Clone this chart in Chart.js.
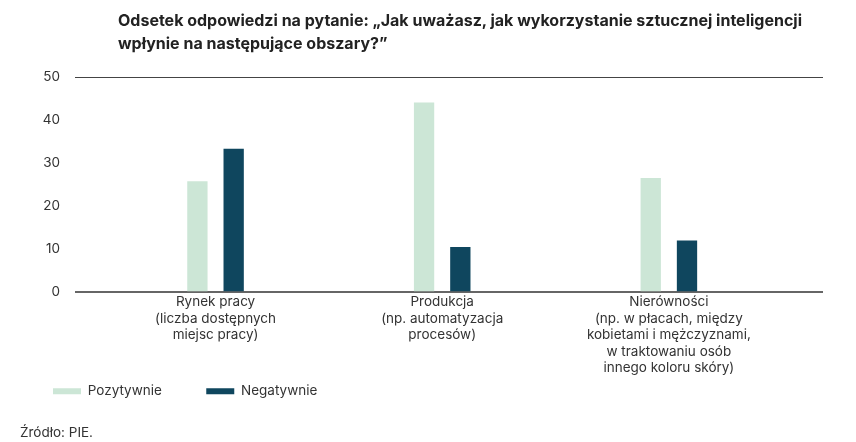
<!DOCTYPE html>
<html>
<head>
<meta charset="utf-8">
<script src="https://cdn.jsdelivr.net/npm/chart.js@4"></script>
<style>
    body { margin: 0; background: #fff; }
    #wrap { position: relative; width: 856px; height: 442px; }
    #title {
        position: absolute; left: 118px; top: 9px;
        font: bold 16px Inter, "Open Sans", sans-serif; line-height: 23px; color: #222;
    }
    #source {
        position: absolute; left: 20px; top: 424px;
        font: 13.5px Inter, "Open Sans", sans-serif; color: #333;
    }
</style>
</head>
<body>
<div id="wrap">
    <canvas id="myChart" width="856" height="442"></canvas>
    <div id="title">Odsetek odpowiedzi na pytanie: „Jak uważasz, jak wykorzystanie sztucznej inteligencji<br>wpłynie na następujące obszary?”</div>
    <div id="source">Źródło: PIE.</div>
</div>
<script>
const categories = [
    ['Rynek pracy', '(liczba dostępnych', 'miejsc pracy)'],
    ['Produkcja', '(np. automatyzacja', 'procesów)'],
    ['Nierówności', '(np. w płacach, między', 'kobietami i mężczyznami,', 'w traktowaniu osób', 'innego koloru skóry)']
];
const pozytywnie = [25.8, 44.1, 26.5];
const negatywnie = [33.3, 10.5, 12.0];
const yTicks = [0, 10, 20, 30, 40, 50];

const fontFamily = 'Inter, "Open Sans", sans-serif';

function points(values) {
    return values.map((v, i) => ({ x: i, y: v }));
}

// nudge the legend a few px right, to line up with the source layout
const legendShift = {
    id: 'legendShift',
    afterLayout(chart) {
        chart.legend.left += 4;
        chart.legend.right += 4;
    }
};

const ctx = document.getElementById('myChart').getContext('2d');
new Chart(ctx, {
    type: 'bar',
    data: {
        datasets: [{
            label: 'Pozytywnie',
            data: points(pozytywnie),
            backgroundColor: '#cce6d6'
        }, {
            label: 'Negatywnie',
            data: points(negatywnie),
            backgroundColor: '#0f465e'
        }]
    },
    plugins: [legendShift],
    options: {
        responsive: false,
        animation: false,
        barPercentage: 0.56,
        categoryPercentage: 0.32,
        layout: { padding: { left: 43, right: 33, top: 77, bottom: 34 } },
        plugins: {
            legend: {
                position: 'bottom',
                align: 'start',
                labels: {
                    boxWidth: 28, boxHeight: 6, padding: 6, color: '#333',
                    font: { family: fontFamily, size: 13.5 },
                    // extra room after each label, as in the source layout
                    generateLabels: chart => Chart.defaults.plugins.legend.labels.generateLabels(chart)
                        .map(item => Object.assign(item, { text: item.text + '\u2003\u2003   ' }))
                }
            },
            tooltip: { enabled: false }
        },
        scales: {
            x: {
                type: 'linear',
                offset: false,
                min: -0.62,
                max: 2.68,
                afterBuildTicks: scale => {
                    scale.ticks = categories.map((_, i) => ({ value: i }));
                },
                ticks: {
                    color: '#333',
                    font: { family: fontFamily, size: 13.5, lineHeight: 1.22 },
                    padding: 2,
                    maxRotation: 0,
                    autoSkip: false,
                    callback: value => categories[value]
                },
                grid: { display: false, drawTicks: false },
                border: { display: false }
            },
            y: {
                min: yTicks[0],
                max: yTicks[yTicks.length - 1],
                afterBuildTicks: scale => {
                    scale.ticks = yTicks.map(v => ({ value: v }));
                },
                afterFit: scale => { scale.width = 32; },
                ticks: { color: '#333', font: { family: fontFamily, size: 13.5 }, padding: 15 },
                grid: {
                    drawTicks: false,
                    color: c => c.tick.value === 0 ? '#666' : (c.tick.value === 50 ? '#444' : 'rgba(0,0,0,0)'),
                    lineWidth: c => c.tick.value === 0 ? 2 : 1
                },
                border: { display: false }
            }
        }
    }
});
</script>
</body>
</html>
